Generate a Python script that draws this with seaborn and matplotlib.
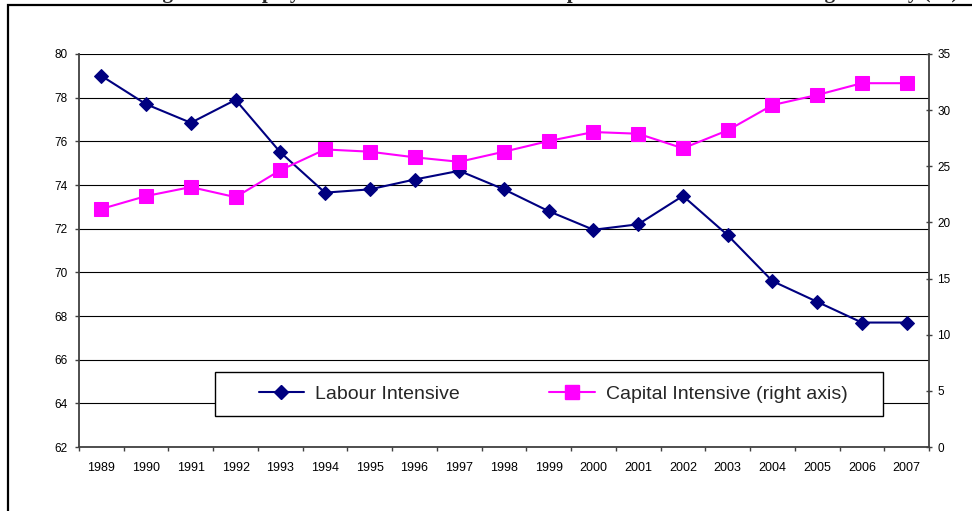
import numpy as np
import pandas as pd
import matplotlib
matplotlib.use("Agg")
import matplotlib.pyplot as plt
import seaborn as sns
from matplotlib.patches import Rectangle
from matplotlib.lines import Line2D

years = [str(y) for y in range(1989, 2008)]
labour = [79.0, 77.7, 76.85, 77.9, 75.5, 73.65, 73.8, 74.25, 74.65, 73.8,
          72.8, 71.95, 72.2, 73.5, 71.7, 69.6, 68.65, 67.7, 67.7]
capital = [21.2, 22.35, 23.15, 22.25, 24.65, 26.5, 26.3, 25.8, 25.4, 26.3,
           27.25, 28.05, 27.9, 26.6, 28.2, 30.45, 31.35, 32.4, 32.4]
series_labels = ["Labour Intensive", "Capital Intensive (right axis)"]
left_ticks = list(range(62, 81, 2))
right_ticks = list(range(0, 36, 5))
title = "Figure 2: Employment Share of Labour and Capital Intensive Manufacturing Industry (%)"

sns.set_theme(style="white")
plt.rcParams["font.family"] = ["Liberation Sans", "DejaVu Sans"]

W, H = 972, 511
fig = plt.figure(figsize=(W / 100, H / 100), dpi=100)
fig.patch.set_facecolor("white")

ax = fig.add_axes([79 / W, 1 - 447 / H, (929 - 79) / W, (447 - 54) / H])
ax2 = ax.twinx()

df = pd.DataFrame({"pos": np.arange(len(years)), "year": years,
                   "labour": labour, "capital": capital})

navy = "#000080"
magenta = "#FF00FF"

sns.lineplot(data=df, x="pos", y="labour", ax=ax, color=navy, marker="D",
             markersize=7, linewidth=1.5, markeredgecolor=navy,
             markerfacecolor=navy, zorder=3)
sns.lineplot(data=df, x="pos", y="capital", ax=ax2, color=magenta, marker="s",
             markersize=9.5, linewidth=1.5, markeredgecolor=magenta,
             markerfacecolor=magenta, zorder=3)

spine_c = "#404040"
ax.set_xlim(-0.5, len(years) - 0.5)
ax.set_ylim(62, 80)
ax.set_yticks(left_ticks)
ax.set_yticklabels([str(t) for t in left_ticks])
ax.set_xticks(df["pos"])
ax.set_xticklabels(years)
ax.set_xticks(np.arange(-0.5, len(years), 1), minor=True)
ax.yaxis.grid(True, color="black", linewidth=0.8)
ax.xaxis.grid(False)
ax.set_axisbelow(True)
ax.set_xlabel("")
ax.set_ylabel("")
ax.tick_params(axis="x", which="major", length=0, pad=11, labelsize=9, colors="black")
ax.tick_params(axis="x", which="minor", length=3, width=1, direction="out", color=spine_c, bottom=True)
ax.tick_params(axis="y", which="major", length=3, width=1, direction="out", pad=5.5,
               labelsize=8.5, colors="black", left=True)
ax.tick_params(axis="y", color=spine_c)
for s in ["top", "right"]:
    ax.spines[s].set_visible(False)
for s in ["left", "bottom"]:
    ax.spines[s].set_color(spine_c)
    ax.spines[s].set_linewidth(1.3)

ax2.set_ylim(0, 35)
ax2.set_yticks(right_ticks)
ax2.set_yticklabels([str(t) for t in right_ticks])
ax2.set_ylabel("")
ax2.tick_params(axis="y", which="major", length=5, width=1, direction="inout", pad=3.5,
                labelsize=8.5, labelcolor="black", color=spine_c, right=True)
ax2.grid(False)
for s in ["top", "left", "bottom"]:
    ax2.spines[s].set_visible(False)
ax2.spines["right"].set_color(spine_c)
ax2.spines["right"].set_linewidth(1.3)

# legend frame (drawn separately for exact padding)
box = Rectangle((215 / W, 1 - 416 / H), (883 - 215) / W, (416 - 372) / H,
                transform=fig.transFigure, facecolor="white", edgecolor="black",
                linewidth=1.0, zorder=9)
ax2.add_artist(box)
box.set_clip_on(False)

handles = [
    Line2D([], [], color=navy, marker="D", markersize=7, linewidth=1.5,
           markerfacecolor=navy, markeredgecolor=navy),
    Line2D([], [], color=magenta, marker="s", markersize=9.5, linewidth=1.5,
           markerfacecolor=magenta, markeredgecolor=magenta),
]
leg = ax2.legend(handles, series_labels, loc="center",
                 bbox_to_anchor=(553 / W, 1 - 394 / H), bbox_transform=fig.transFigure,
                 ncol=2, fontsize=14, frameon=False,
                 handlelength=2.35, handletextpad=0.55, columnspacing=4.6,
                 borderpad=0.3, borderaxespad=0)
leg.set_zorder(10)

fig.add_artist(Rectangle((8 / W, -0.05), 1.1, 1 - 5 / H + 0.05,
                         transform=fig.transFigure, fill=False,
                         edgecolor="black", linewidth=1.6, clip_on=False))
fig.text(958 / W, 1 + 2 / H, title, ha="right", va="baseline",
         fontsize=15, fontweight="bold",
         family=["Liberation Serif", "DejaVu Serif"])

fig.savefig("out.png", dpi=100, facecolor="white")
